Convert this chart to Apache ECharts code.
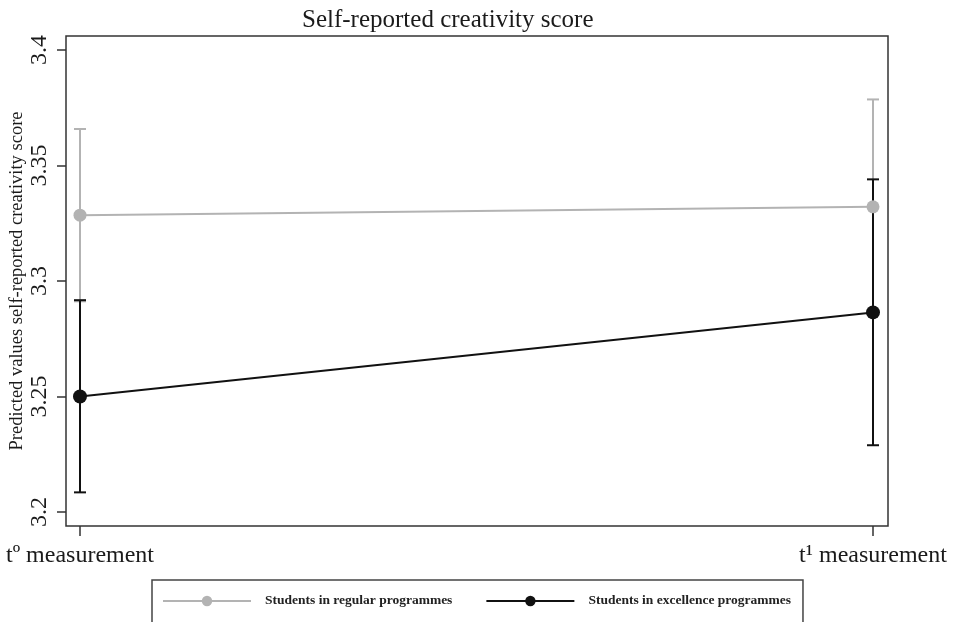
<!DOCTYPE html>
<html>
<head>
<meta charset="utf-8">
<script src="https://cdn.jsdelivr.net/npm/echarts@6/dist/echarts.min.js"></script>
<style>
html,body{margin:0;padding:0;background:#fff;}
#main{width:956px;height:622px;}
</style>
</head>
<body>
<div id="main"></div>
<script>
var categories = ['t\u00ba measurement', 't\u00b9 measurement'];
var regularMean = [3.3285, 3.3321];
var regularLow = [3.2912, 3.2856];
var regularHigh = [3.3658, 3.3786];
var excellenceMean = [3.2500, 3.2864];
var excellenceLow = [3.2085, 3.2289];
var excellenceHigh = [3.2917, 3.3440];
var yMin = 3.2, yMax = 3.4, yStep = 0.05;

var serif = '"Liberation Serif", "DejaVu Serif", serif';
var grey = '#b3b3b3', black = '#111';

function ciData(low, high){
    var out = [];
    for (var i = 0; i < low.length; i++) out.push([i, low[i], high[i]]);
    return out;
}

function ciRender(color){
    return function(params, api){
        var top = api.coord([api.value(0), api.value(2)]);
        var bot = api.coord([api.value(0), api.value(1)]);
        var w = 6;
        var st = {stroke: color, lineWidth: 2};
        return {
            type: 'group',
            children: [
                {type: 'line', shape: {x1: top[0], y1: top[1], x2: bot[0], y2: bot[1]}, style: st},
                {type: 'line', shape: {x1: top[0]-w, y1: top[1], x2: top[0]+w, y2: top[1]}, style: st},
                {type: 'line', shape: {x1: bot[0]-w, y1: bot[1], x2: bot[0]+w, y2: bot[1]}, style: st}
            ]
        };
    };
}

var myChart = echarts.init(document.getElementById('main'));
var option = {
    backgroundColor: '#fff',
    animation: false,
    title: {
        text: 'Self-reported creativity score',
        left: 297,
        top: 3,
        textStyle: {fontFamily: serif, fontSize: 25, fontWeight: 'normal', color: '#1a1a1a'}
    },
    legend: {
        data: ['Students in regular programmes', 'Students in excellence programmes'],
        left: 152,
        top: 580,
        orient: 'horizontal',
        itemWidth: 88,
        itemHeight: 13,
        itemGap: 33,
        padding: [14, 12, 30, 10],
        borderColor: '#444',
        borderWidth: 1.5,
        textStyle: {fontFamily: serif, fontSize: 13.5, fontWeight: 'bold', color: '#222', padding: [0, 0, 0, 9]}
    },
    grid: [
        {left: 80, right: 83, top: 50, bottom: 110, outerBoundsMode: 'none', containLabel: false},
        {left: 66, right: 68, top: 36, bottom: 96, outerBoundsMode: 'none', containLabel: false,
         show: true, borderColor: '#333', borderWidth: 1.5, backgroundColor: 'transparent'}
    ],
    xAxis: [
        {
            type: 'category',
            gridIndex: 0,
            data: categories,
            boundaryGap: false,
            offset: 14,
            axisLine: {show: false},
            axisTick: {show: true, length: 10, alignWithLabel: true, lineStyle: {color: '#333', width: 1.5}},
            axisLabel: {fontFamily: serif, fontSize: 24, color: '#1a1a1a', margin: 18},
            splitLine: {show: false}
        },
        {type: 'value', gridIndex: 1, show: false}
    ],
    yAxis: [
        {
            type: 'value',
            gridIndex: 0,
            min: yMin,
            max: yMax,
            interval: yStep,
            offset: 14,
            name: 'Predicted values self-reported creativity score',
            nameLocation: 'middle',
            nameRotate: 90,
            nameGap: 39,
            nameMoveOverlap: false,
            nameTextStyle: {fontFamily: serif, fontSize: 18.5, color: '#1a1a1a'},
            axisLine: {show: false},
            axisTick: {show: true, length: 9, lineStyle: {color: '#333', width: 1.5}},
            axisLabel: {fontFamily: serif, fontSize: 24, color: '#1a1a1a', rotate: 90, margin: 14},
            splitLine: {show: false}
        },
        {type: 'value', gridIndex: 1, show: false}
    ],
    series: [
        {
            name: 'regular CI',
            type: 'custom',
            renderItem: ciRender(grey),
            data: ciData(regularLow, regularHigh),
            z: 1
        },
        {
            name: 'excellence CI',
            type: 'custom',
            renderItem: ciRender(black),
            data: ciData(excellenceLow, excellenceHigh),
            z: 2
        },
        {
            name: 'Students in regular programmes',
            type: 'line',
            data: regularMean,
            symbol: 'circle',
            symbolSize: 13,
            lineStyle: {color: grey, width: 2},
            itemStyle: {color: grey},
            z: 3
        },
        {
            name: 'Students in excellence programmes',
            type: 'line',
            data: excellenceMean,
            symbol: 'circle',
            symbolSize: 14,
            lineStyle: {color: black, width: 2},
            itemStyle: {color: black},
            z: 4
        }
    ]
};
myChart.setOption(option);
</script>
</body>
</html>
